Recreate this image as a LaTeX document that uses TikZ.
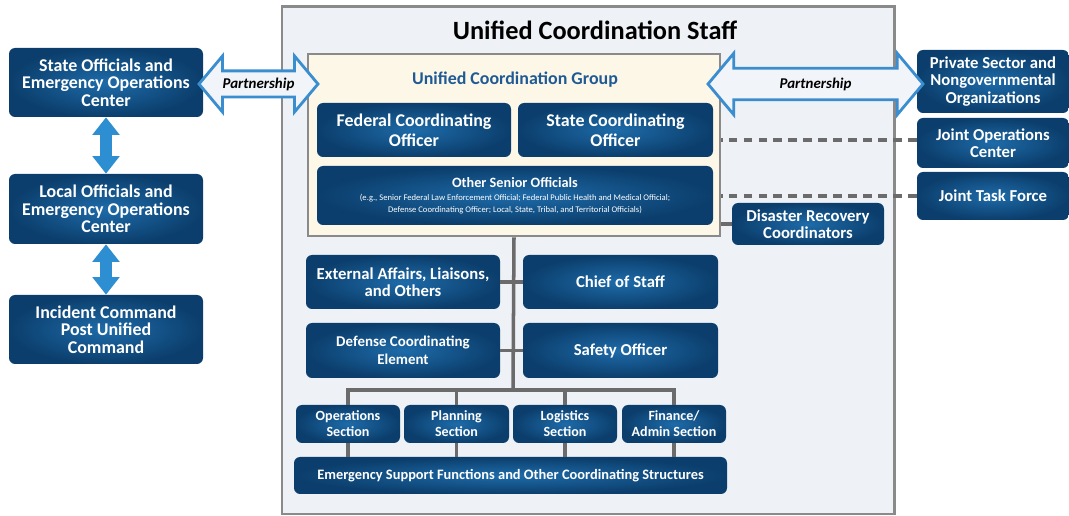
\documentclass[tikz,border=0pt]{standalone}
\usepackage{fontspec}
\setmainfont{Carlito}
\usetikzlibrary{arrows.meta, shapes.arrows, calc}

\definecolor{boxdark}{HTML}{0B3E6C}
\definecolor{boxlight}{HTML}{1E6BA9}
\definecolor{staffbg}{HTML}{EEF1F5}
\definecolor{groupbg}{HTML}{FDF7E8}
\definecolor{frameline}{HTML}{8A8A8A}
\definecolor{linkline}{HTML}{6B6B6B}
\definecolor{groupblue}{HTML}{1F5A94}
\definecolor{partline}{HTML}{3A8DCF}
\definecolor{partfill}{HTML}{F1F4F8}
\definecolor{vblue}{HTML}{2E8ED2}

\tikzset{
  ubox/.style 2 args={rounded corners=3.5pt, inner color=boxlight, outer color=boxdark,
    text=white, align=center, inner sep=1pt,
    minimum width=#1*0.02cm, minimum height=#2*0.02cm},
  bigtxt/.style={font=\bfseries\fontsize{10.2}{11.5}\selectfont},
  leftxt/.style={font=\bfseries\fontsize{10.2}{10}\selectfont},
  midtxt/.style={font=\bfseries\fontsize{9.5}{10}\selectfont},
  smalltxt/.style={font=\bfseries\fontsize{8}{9}\selectfont},
  link/.style={draw=linkline, line width=2pt},
  dashlink/.style={draw=linkline, line width=2.2pt, dash pattern=on 5pt off 3.5pt},
  partner/.style={double arrow, draw=partline, line width=1.6pt, fill=partfill,
    double arrow head extend=8.5pt, double arrow tip angle=100, inner sep=3pt,
    font=\bfseries\itshape\fontsize{8.5}{9}\selectfont},
  vArrow/.style={draw=vblue, line width=6.8pt,
    {Triangle[width=15pt,length=10pt]}-{Triangle[width=15pt,length=10pt]}}
}

\begin{document}
\begin{tikzpicture}[x=0.02cm, y=-0.02cm]
  \useasboundingbox (0,0) rectangle (1069,516);

  % Staff frame
  \draw[frameline, line width=1.7pt, fill=staffbg] (282,7) rectangle (894,514);
  \node[font=\bfseries\fontsize{15}{17}\selectfont] (title) at (595,30) {Unified Coordination Staff};

  % Unified Coordination Group
  \node[draw=frameline, line width=1.7pt, fill=groupbg, minimum width=412*0.02cm,
        minimum height=182*0.02cm, inner sep=0pt] (ucg) at (514,145) {};
  \node[text=groupblue, font=\bfseries\fontsize{10.2}{12}\selectfont] (ucgtitle) at (515,80) {Unified Coordination Group};
  \node[ubox={194}{54}, bigtxt] (fco) at (414,130) {Federal Coordinating\\Officer};
  \node[ubox={195}{54}, bigtxt] (sco) at (615.5,130) {State Coordinating\\Officer};
  \node[ubox={396}{59}, font=\fontsize{4.9}{7}\selectfont] (oso) at (515,195.5)
    {{\bfseries\fontsize{8.1}{9}\selectfont Other Senior Officials}\\[0.5pt]
    (e.g., Senior Federal Law Enforcement Official; Federal Public Health and Medical Official;\\
    Defense Coordinating Officer; Local, State, Tribal, and Territorial Officials)};

  % Left column
  \node[ubox={194}{69}, leftxt] (state) at (106,82.5) {State Officials and\\Emergency Operations\\Center};
  \node[ubox={194}{70}, leftxt] (local) at (106,209) {Local Officials and\\Emergency Operations\\Center};
  \node[ubox={194}{69}, leftxt] (icp) at (106,329.5) {Incident Command\\Post Unified\\Command};
  \draw[vArrow] (state) -- (local);
  \draw[vArrow] (local) -- (icp);

  % Right column
  \node[ubox={152}{63}, midtxt] (pso) at (993,81.5) {Private Sector and\\Nongovernmental\\Organizations};
  \node[ubox={152}{50}, midtxt] (joc) at (993,143) {Joint Operations\\Center};
  \node[ubox={152}{48}, midtxt] (jtf) at (993,196) {Joint Task Force};
  \node[ubox={152}{42}, midtxt] (drc) at (808,224) {Disaster Recovery\\Coordinators};

  % Partnerships
  \node[partner, minimum height=119*0.02cm] (plink) at (258.5,84) {Partnership};
  \node[partner, minimum height=215*0.02cm, inner ysep=4.5pt] (prlink) at (815.5,84) {Partnership};

  % Dashed links
  \draw[dashlink] (joc.west |- 0,140) -- (ucg.east |- 0,140);
  \draw[dashlink] (jtf.west) -- (jtf.west -| ucg.east);
  \draw[link] (drc.west) -- (drc.west -| ucg.east);

  % Command and general staff
  \node[ubox={194}{54}, midtxt] (ext) at (403,282) {External Affairs, Liaisons,\\and Others};
  \node[ubox={195}{54}, midtxt] (cos) at (620.5,282) {Chief of Staff};
  \node[ubox={194}{55}, font=\bfseries\fontsize{8.5}{10}\selectfont] (dce) at (403,350.5) {Defense Coordinating\\Element};
  \node[ubox={195}{55}, midtxt] (saf) at (620.5,350.5) {Safety Officer};

  \coordinate (bar) at (513,390);
  \draw[link] (ucg.south) -- (bar);
  \draw[link] (ext.east) -- (cos.west);
  \draw[link] (dce.east) -- (saf.west);

  % Sections
  \node[ubox={104}{38}, smalltxt] (ops) at (348,424) {Operations\\Section};
  \node[ubox={105}{38}, smalltxt] (pln) at (456.5,424) {Planning\\Section};
  \node[ubox={104}{38}, smalltxt] (lgs) at (565,424) {Logistics\\Section};
  \node[ubox={104}{38}, smalltxt] (fin) at (674,424) {Finance/\\Admin Section};
  \node[ubox={433}{37}, font=\bfseries\fontsize{8.2}{9}\selectfont] (esf) at (510.5,475.5) {Emergency Support Functions and Other Coordinating Structures};

  \draw[link] (ops.north) |- (bar) -| (fin.north);
  \foreach \s in {pln,lgs}
    \draw[link] (\s.north) -- (\s.north |- bar);
  \foreach \s in {ops,pln,lgs,fin}
    \draw[link] (\s.south) -- (\s.south |- esf.north);

\end{tikzpicture}
\end{document}
